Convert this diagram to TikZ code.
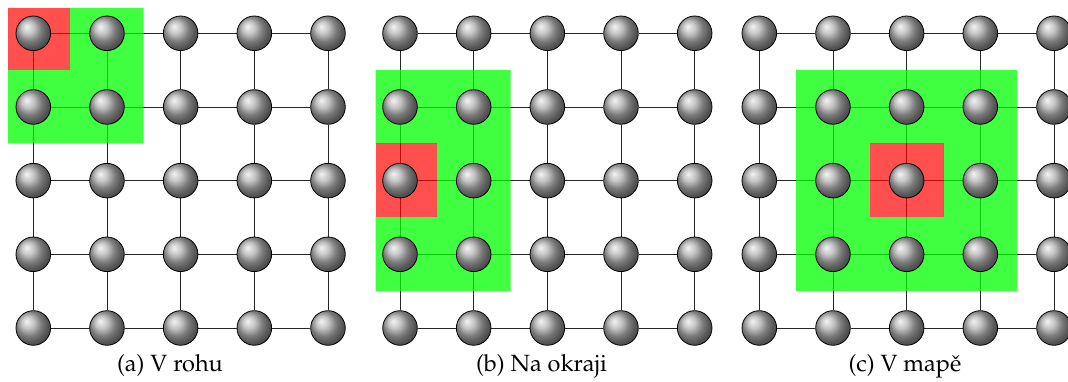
\documentclass[tikz,border=0pt]{standalone}
\usepackage[T1]{fontenc}
\usepackage{mathpazo}
\pgfdeclarelayer{wires}
\pgfdeclarelayer{tint}
\pgfsetlayers{wires,tint,main}
\begin{document}
\begin{tikzpicture}[x=1pt,y=-1pt,
  ball/.style={circle,draw=black,line width=0.8pt,shading=ball,ball color=gray!62,
    minimum size=34.6pt,inner sep=0pt},
  wire/.style={draw=black!85,line width=0.9pt},
  zone/.style={fill=green,fill opacity=0.75,even odd rule},
  core/.style={fill=red,fill opacity=0.69},
  caption/.style={font=\fontsize{23.5}{28}\selectfont,anchor=base}]
\useasboundingbox (0,0) rectangle (1068,382);

% three 5x5 lattices of spheres
\foreach \p/\xo in {a/33.3,b/400,c/759.3}{
  \foreach \i in {0,...,4}{
    \foreach \j in {0,...,4}{
      \node[ball] (\p-\i-\j) at ({\xo+73.67*\i},{33.3+73.67*\j}) {};
    }
  }
  \begin{pgfonlayer}{wires}
    \foreach \i in {0,...,4}{
      \foreach \j [evaluate=\j as \k using int(\j+1)] in {0,...,3}{
        \draw[wire] (\p-\i-\j) -- (\p-\i-\k);
        \draw[wire] (\p-\j-\i) -- (\p-\k-\i);
      }
    }
  \end{pgfonlayer}
}

% neighbourhood (green) and current cell (red)
\begin{pgfonlayer}{tint}
  \fill[zone] (8,8) rectangle (143.5,143.5) (8,8) rectangle (70.1,70.1);
  \fill[core] (8,8) rectangle (70.1,70.1);
  \fill[zone] (375.7,70) rectangle (510.5,291) (375.7,143.5) rectangle (436.8,217.1);
  \fill[core] (375.7,143.5) rectangle (436.8,217.1);
  \fill[zone] (796.2,69.8) rectangle (1017.2,290.8) (869.9,143.5) rectangle (943.5,217.1);
  \fill[core] (869.9,143.5) rectangle (943.5,217.1);
\end{pgfonlayer}

\node[caption] (capa) at (170,371) {(a) V rohu};
\node[caption] (capb) at (541.5,371) {(b) Na okraji};
\node[caption] (capc) at (905,371) {(c) V map\v{e}};
\end{tikzpicture}
\end{document}
